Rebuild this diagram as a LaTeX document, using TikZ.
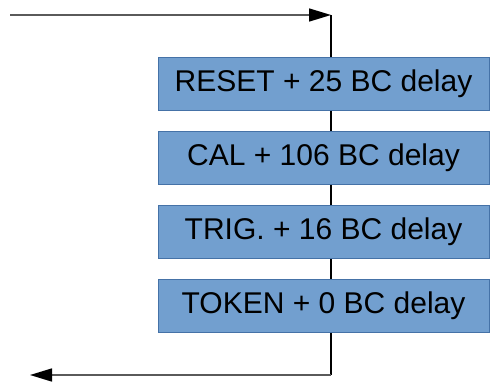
\documentclass[tikz,border=0pt]{standalone}
\usepackage{fontspec}
\setmainfont{Liberation Sans}
\usetikzlibrary{positioning,arrows.meta,backgrounds}
\definecolor{BoxBlue}{RGB}{114,159,207}
\definecolor{BoxEdge}{RGB}{69,114,167}
\definecolor{WireGray}{RGB}{90,90,90}
\tikzset{
  cmdbox/.style={draw=BoxEdge,fill=BoxBlue,line width=1pt,minimum width=331pt,
    minimum height=53pt,inner sep=0pt,font=\fontsize{30}{34}\selectfont},
  wire/.style={draw=WireGray,line width=1.6pt},
  bus/.style={draw=black,line width=2.4pt},
  tip/.style={-{Triangle[length=22pt,width=13pt,fill=black,color=black]}},
}

\begin{document}
\begin{tikzpicture}[x=1pt,y=-1pt]
  \useasboundingbox (0,0) rectangle (490,383);
  \coordinate (in) at (10,15);
  \coordinate (top) at (331,15);
  \coordinate (bot) at (331,375);
  \coordinate (out) at (30,375);

  \node[cmdbox] (reset) at (323.5,83.5) {RESET + 25 BC delay};
  \node[cmdbox,below=20pt of reset] (cal) {CAL + 106 BC delay};
  \node[cmdbox,below=20pt of cal] (trig) {TRIG. + 16 BC delay};
  \node[cmdbox,below=20pt of trig] (token) {TOKEN + 0 BC delay};

  \begin{scope}[on background layer]
    \draw[bus] (top)--(bot);
  \end{scope}
  \draw[wire,tip] (in)--(top);
  \draw[wire,tip] (bot)--(out);
\end{tikzpicture}
\end{document}
